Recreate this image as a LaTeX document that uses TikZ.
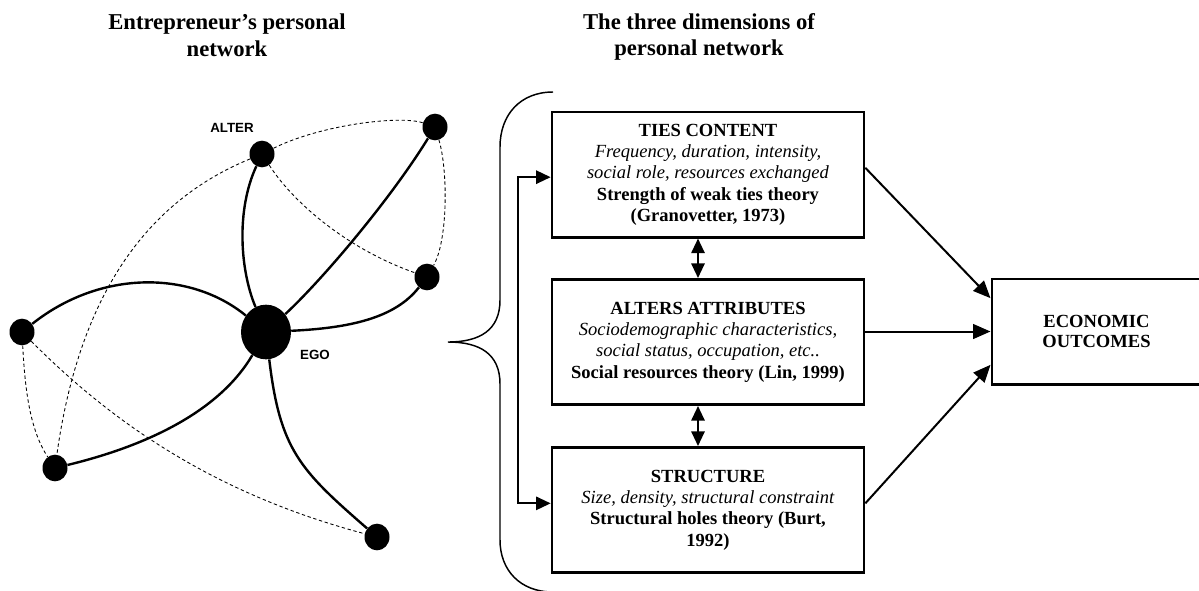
\documentclass[tikz,border=0pt]{standalone}
\usepackage{fontspec}
\setmainfont{Liberation Serif}
\newfontfamily\labelfont{Liberation Sans}
\usepackage{tikz}
\usetikzlibrary{shapes.geometric,arrows.meta}
\tikzstyle{every node}=[inner sep=0pt]
\tikzstyle{alter}=[ellipse,fill=black,minimum width=18.75pt,minimum height=20pt]
\tikzstyle{egonode}=[ellipse,fill=black,minimum width=37.5pt,minimum height=41pt]
\tikzstyle{tie}=[line width=1.8pt]
\tikzstyle{weak}=[line width=0.65pt,dash pattern=on 2.5pt off 2pt]
\tikzstyle{netlabel}=[font=\labelfont\bfseries\fontsize{10}{12}\selectfont]
\tikzstyle{dimension}=[draw=black,line width=2pt,minimum width=234pt,minimum height=94pt,
    align=center,font=\fontsize{13.9}{16}\selectfont]
\tikzstyle{outcome}=[draw=black,line width=2pt,minimum width=157pt,minimum height=79pt,
    align=center,font=\bfseries\fontsize{13.9}{15.5}\selectfont]
\tikzstyle{link}=[line width=1.5pt,-{Triangle[length=13pt,width=11pt]}]
\tikzstyle{twoway}=[line width=1.5pt,{Triangle[length=11pt,width=10pt]}-{Triangle[length=11pt,width=10pt]}]
\tikzstyle{heading}=[align=center,font=\bfseries\fontsize{17}{20}\selectfont]

\begin{document}
\begin{tikzpicture}[x=0.75pt,y=-0.75pt]
    \useasboundingbox (0,0) rectangle (1199,590);
    \clip (0,0) rectangle (1199,590);

    % headings
    \node [heading] (leftTitle) at (227,35) {Entrepreneur's personal\\network};
    \node [heading] (rightTitle) at (699,37) {The three dimensions of\\personal network};

    % personal network
    \node [egonode] (ego) at (266,332) {};
    \node [alter] (alt) at (262,154) {};
    \node [alter] (topRight) at (435,127) {};
    \node [alter] (midRight) at (427,277) {};
    \node [alter] (left) at (22,332) {};
    \node [alter] (lowLeft) at (55,468) {};
    \node [alter] (bottom) at (377,537) {};
    \node [netlabel] (altLabel) at (232,128) {ALTER};
    \node [netlabel] (egoLabel) at (315,355) {EGO};

    \draw [tie] (ego) .. controls (240,270) and (236,210) .. (alt);
    \draw [tie] (ego) .. controls (322,280) and (390,200) .. (topRight);
    \draw [tie] (ego) .. controls (350,328) and (395,318) .. (midRight);
    \draw [tie] (ego) .. controls (190,270) and (100,270) .. (left);
    \draw [tie] (ego) .. controls (220,410) and (150,445) .. (lowLeft);
    \draw [tie] (ego) .. controls (280,450) and (300,470) .. (bottom);

    \draw [weak] (alt) .. controls (320,125) and (400,115) .. (topRight);
    \draw [weak] (alt) .. controls (295,205) and (350,250) .. (midRight);
    \draw [weak] (topRight) .. controls (448,170) and (448,240) .. (midRight);
    \draw [weak] (alt) .. controls (150,200) and (80,290) .. (lowLeft);
    \draw [weak] (left) .. controls (25,390) and (30,430) .. (lowLeft);
    \draw [weak] (left) .. controls (100,410) and (200,490) .. (bottom);

    % brace
    \draw [line width=1.1pt] (553,92) .. controls (520,92) and (500,115) .. (500,147)
        -- (500,300) .. controls (500,330) and (480,342) .. (448,342)
        .. controls (480,342) and (500,354) .. (500,384)
        -- (500,540) .. controls (500,570) and (520,592) .. (553,592);

    % dimensions
    \node [dimension] (ties) at (708,174.5) {\textbf{TIES CONTENT}\\
        \textit{Frequency, duration, intensity,}\\
        \textit{social role, resources exchanged}\\
        \textbf{Strength of weak ties theory}\\
        \textbf{(Granovetter, 1973)}};
    \node [dimension] (attr) at (708,342) {\textbf{ALTERS ATTRIBUTES}\\
        \textit{Sociodemographic characteristics,}\\
        \textit{social status, occupation, etc..}\\
        \textbf{Social resources theory (Lin, 1999)}};
    \node [dimension] (struct) at (708,510) {\textbf{STRUCTURE}\\
        \textit{Size, density, structural constraint}\\
        \textbf{Structural holes theory (Burt,}\\
        \textbf{1992)}};
    \node [outcome] (econ) at (1096.5,331.5) {ECONOMIC\\OUTCOMES};

    \draw [twoway] ([yshift=-2pt]ties.west) -- ++(-33,0) |- ([yshift=5pt]struct.west);
    \draw [twoway] ([xshift=-7.5pt]ties.south) -- ([xshift=-7.5pt]attr.north);
    \draw [twoway] ([xshift=-7.5pt]attr.south) -- ([xshift=-7.5pt]struct.north);

    \draw [link] ([yshift=5pt]ties.east) -- ([yshift=25pt]econ.west);
    \draw [link] (attr.east |- econ.west) -- (econ.west);
    \draw [link] ([yshift=5pt]struct.east) -- ([yshift=-25pt]econ.west);
\end{tikzpicture}
\end{document}
